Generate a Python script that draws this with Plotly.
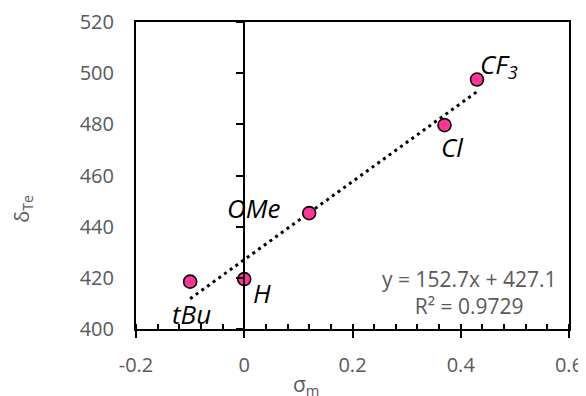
import plotly.graph_objects as go

# Data
sigma_m = [-0.10, 0.00, 0.12, 0.37, 0.43]
delta_te = [418.5, 419.5, 445.3, 479.7, 497.5]
labels = ["tBu", "H", "OMe", "Cl", "CF<sub>3</sub>"]
slope = 152.7
intercept = 427.1
r2 = 0.9729
x_ticks = [-0.2, 0, 0.2, 0.4, 0.6]
x_tick_text = ["-0.2", "0", "0.2", "0.4", "0.6"]
y_ticks = [400, 420, 440, 460, 480, 500, 520]

fit_x = [min(sigma_m), max(sigma_m)]
fit_y = [slope * v + intercept for v in fit_x]

FONT = "Open Sans"
GRAY = "#595959"

fig = go.Figure()
fig.add_trace(go.Scatter(x=fit_x, y=fit_y, mode="lines",
                         line=dict(color="black", width=3, dash="3px,4px"),
                         hoverinfo="skip", showlegend=False))
fig.add_trace(go.Scatter(x=sigma_m, y=delta_te, mode="markers",
                         marker=dict(size=13, color="#FF3399",
                                     line=dict(color="black", width=1.6)),
                         showlegend=False))
# invisible trace to anchor the crossing y-axis at x = 0
fig.add_trace(go.Scatter(x=[0], y=[400], yaxis="y2", mode="markers",
                         marker=dict(opacity=0), hoverinfo="skip", showlegend=False))

# point labels: (dx, dy) shift of label centre from marker centre
offsets = [(1, -32), (18, -14), (-56, 5), (8, -22), (22, 15)]
for xv, yv, lab, (dx, dy) in zip(sigma_m, delta_te, labels, offsets):
    fig.add_annotation(x=xv, y=yv, text=lab, showarrow=False,
                       xshift=dx, yshift=dy, xanchor="center", yanchor="middle",
                       font=dict(family=FONT, size=26, color="black", style="italic"))

fig.add_annotation(xref="paper", yref="paper", x=0.769, y=0.119,
                   text=f"y = {slope}x + {intercept}<br>R² = {r2}",
                   showarrow=False, align="center", xanchor="center", yanchor="middle",
                   font=dict(family=FONT, size=21, color=GRAY))

fig.add_annotation(xref="paper", yref="paper", x=0.393, y=-0.182,
                   text="σ<sub>m</sub>", showarrow=False, xanchor="center", yanchor="middle",
                   font=dict(family=FONT, size=21, color=GRAY))
fig.add_annotation(xref="paper", yref="paper", x=-0.262, y=0.39,
                   text="δ<sub>Te</sub>", showarrow=False, textangle=-90,
                   xanchor="center", yanchor="middle",
                   font=dict(family=FONT, size=20, color=GRAY))

# page body adds an 8px margin, so the figure is sized/offset to compensate
fig.update_layout(
    width=578, height=388,
    margin=dict(l=128, r=17, t=14, b=67, autoexpand=False),
    plot_bgcolor="white", paper_bgcolor="white",
    font=dict(family=FONT, size=20, color=GRAY),
    xaxis=dict(range=[-0.2, 0.6], tickvals=x_ticks, ticktext=x_tick_text,
               automargin=False,
               showgrid=False, zeroline=False,
               showline=True, linecolor="black", linewidth=2, mirror=True,
               ticks="outside", ticklen=7, tickwidth=2, tickcolor="black",
               ticklabelstandoff=10,
               minor=dict(dtick=0.04, ticks="inside", ticklen=5, tickwidth=1.5,
                          tickcolor="black", showgrid=False),
               tickfont=dict(family=FONT, size=20, color=GRAY)),
    yaxis=dict(range=[400, 520], tickvals=y_ticks, automargin=False,
               showgrid=False, zeroline=False,
               showline=True, linecolor="black", linewidth=2, mirror=True,
               ticks="", ticklabelstandoff=16,
               tickfont=dict(family=FONT, size=20, color=GRAY)),
    yaxis2=dict(range=[400, 520], tickvals=y_ticks, overlaying="y",
                anchor="free", position=0.25, side="left", automargin=False,
                showgrid=False, zeroline=False, showticklabels=False,
                showline=True, linecolor="black", linewidth=2,
                ticks="outside", ticklen=7, tickwidth=2, tickcolor="black"),
)

fig.write_html("out.html")
